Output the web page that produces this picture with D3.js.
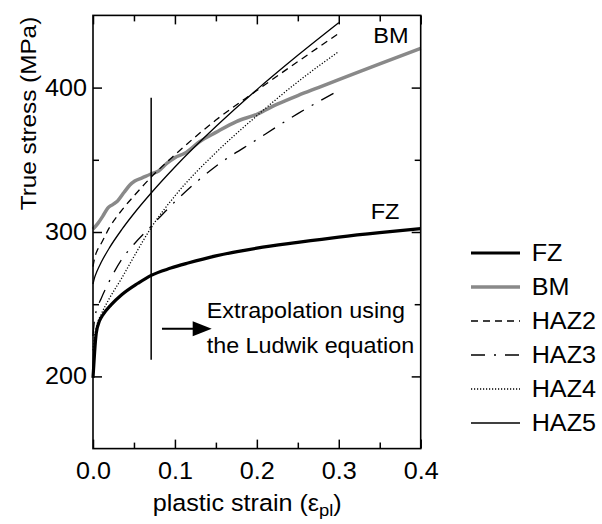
<!DOCTYPE html>
<html>
<head>
<meta charset="utf-8">
<script src="https://cdn.jsdelivr.net/npm/d3@7"></script>
<style>
  html, body { margin: 0; padding: 0; background: #fff; }
  svg { display: block; }
  text { font-family: "Liberation Sans", Arial, Helvetica, sans-serif; fill: #000; }
</style>
</head>
<body>
<svg id="chart" width="602" height="524"></svg>
<script>
// True stress (MPa) against plastic strain, one [strain, stress] list per zone
const FZ   = [[0,199],[0.001,208],[0.002,217],[0.004,230],[0.008,238.5],[0.012,242.5],[0.022,249.5],[0.035,256.5],[0.055,264.5],[0.071,270],[0.095,275],[0.116,278.5],[0.15,283.5],[0.2,288.8],[0.25,292.8],[0.3,296.5],[0.35,299.6],[0.4,302.3]];
const BM   = [[0,302],[0.006,306],[0.012,311],[0.018,316.5],[0.024,319],[0.03,321.5],[0.038,327.5],[0.045,332.5],[0.051,335.3],[0.06,337.5],[0.07,340],[0.08,342.3],[0.09,347.5],[0.1,351.5],[0.112,354.5],[0.13,362.5],[0.15,369],[0.175,376.5],[0.2,381.5],[0.225,388.5],[0.25,394.5],[0.275,400],[0.3,405.5],[0.35,416.5],[0.4,427.2]];
const HAZ2 = [[0,276],[0.002,282],[0.005,287],[0.01,292],[0.02,303],[0.035,315],[0.05,325],[0.071,338],[0.1,353.5],[0.15,377.5],[0.2,398],[0.25,418],[0.3,437.5]];
const HAZ3 = [[0,228],[0.002,240],[0.005,247],[0.01,254],[0.02,266],[0.035,281],[0.05,291.5],[0.071,304],[0.1,321],[0.15,345.5],[0.2,364],[0.25,382],[0.3,398]];
const HAZ4 = [[0,218],[0.002,228],[0.005,236],[0.01,243],[0.02,254],[0.035,268],[0.05,283],[0.071,303],[0.1,325],[0.15,355],[0.2,380.5],[0.25,404],[0.3,425]];
const HAZ5 = [[0,264],[0.002,268.6],[0.005,273],[0.01,279],[0.02,289],[0.035,301.6],[0.05,312.8],[0.071,327],[0.1,345],[0.15,373],[0.2,398.6],[0.25,422.4],[0.3,445]];

const seriesNames = ["FZ", "BM", "HAZ2", "HAZ3", "HAZ4", "HAZ5"];
const seriesData  = [FZ, BM, HAZ2, HAZ3, HAZ4, HAZ5];

// Axis ticks
const xMajorTicks = [0, 0.1, 0.2, 0.3, 0.4];
const xMinorTicks = [0.05, 0.15, 0.25, 0.35];
const yMajorTicks = [200, 300, 400];
const yMinorTicks = [250, 350];

// Limit of the measured range; beyond it the curves follow the Ludwik fit
const extrapolationStrain = 0.071;
const extrapolationStress = [211.6, 393];

// ---------------------------------------------------------------------
const lineStyles = {
  FZ:   { stroke: "#000",    width: 3.2, dash: null },
  BM:   { stroke: "#898989", width: 3.5, dash: null },
  HAZ2: { stroke: "#000",    width: 1.3, dash: "7,5" },
  HAZ3: { stroke: "#000",    width: 1.3, dash: "14,9,2,9" },
  HAZ4: { stroke: "#000",    width: 1.3, dash: "1.2,1.8" },
  HAZ5: { stroke: "#000",    width: 1.3, dash: null }
};

const SX = 1.08;          // slightly wide lettering
const tickFont = 23.3;

const plot = { left: 93, right: 420.7, top: 15.4, bottom: 448.6 };
const x = d3.scaleLinear().domain([0, 0.4]).range([plot.left, plot.right]);
const y = d3.scaleLinear().domain([150, 450]).range([plot.bottom, plot.top]);

const svg = d3.select("#chart");

function label(txt, px, py, size, anchor, extra) {
  return svg.append("text")
    .attr("transform", `translate(${px},${py}) ${extra || ""} scale(${SX},1)`)
    .attr("font-size", size)
    .attr("text-anchor", anchor || "start")
    .text(txt);
}

// Curves
const line = d3.line()
  .x(d => x(d[0]))
  .y(d => y(d[1]))
  .curve(d3.curveMonotoneX);

const curves = svg.append("g").attr("fill", "none");
seriesNames.forEach((name, i) => {
  const s = lineStyles[name];
  curves.append("path")
    .datum(seriesData[i])
    .attr("d", line)
    .attr("stroke", s.stroke)
    .attr("stroke-width", s.width)
    .attr("stroke-dasharray", s.dash)
    .attr("stroke-linejoin", "round");
});

// Axes: inward ticks on all four sides
function drawAxis(gen, transform, ticks, size, fmt) {
  const g = svg.append("g")
    .attr("transform", transform)
    .call(gen.tickValues(ticks).tickSizeInner(-size).tickSizeOuter(0).tickFormat(fmt || (() => "")));
  g.select(".domain").remove();
  g.attr("font-family", null).attr("font-size", tickFont);
  g.selectAll("line").attr("stroke", "#000").attr("stroke-width", 1.5);
  g.selectAll("text").attr("transform", `scale(${SX},1)`).attr("fill", "#000");
  return g;
}

drawAxis(d3.axisBottom(x).tickPadding(14), `translate(0,${plot.bottom})`, xMajorTicks, 9, d3.format(".1f"));
drawAxis(d3.axisBottom(x), `translate(0,${plot.bottom})`, xMinorTicks, 6);
drawAxis(d3.axisTop(x), `translate(0,${plot.top})`, xMajorTicks, 9);
drawAxis(d3.axisTop(x), `translate(0,${plot.top})`, xMinorTicks, 6);
drawAxis(d3.axisLeft(y).tickPadding(5.5), `translate(${plot.left},0)`, yMajorTicks, 9, d3.format("d"));
drawAxis(d3.axisLeft(y), `translate(${plot.left},0)`, yMinorTicks, 6);
drawAxis(d3.axisRight(y), `translate(${plot.right},0)`, yMajorTicks, 9);
drawAxis(d3.axisRight(y), `translate(${plot.right},0)`, yMinorTicks, 6);

svg.append("rect")
  .attr("x", plot.left).attr("y", plot.top)
  .attr("width", plot.right - plot.left).attr("height", plot.bottom - plot.top)
  .attr("fill", "none").attr("stroke", "#000").attr("stroke-width", 1.6);

// Axis titles
label("True stress (MPa)", 36, 113.5, 22.5, "middle", "rotate(-90)");
const xt = label("plastic strain (ε", 152.7, 511, 23.3, "start");
xt.append("tspan").attr("font-size", 17).attr("dy", 5).text("pl");
xt.append("tspan").attr("dy", -5).text(")");

// Extrapolation marker and note
svg.append("line")
  .attr("x1", x(extrapolationStrain)).attr("x2", x(extrapolationStrain))
  .attr("y1", y(extrapolationStress[0])).attr("y2", y(extrapolationStress[1]))
  .attr("stroke", "#000").attr("stroke-width", 1.5);

const arrowY = y(233);
const arrowX0 = x(0.0842), arrowTip = x(0.1449);
svg.append("line")
  .attr("x1", arrowX0).attr("x2", arrowTip - 17)
  .attr("y1", arrowY).attr("y2", arrowY)
  .attr("stroke", "#000").attr("stroke-width", 2);
svg.append("path")
  .attr("d", `M${arrowTip},${arrowY} L${arrowTip - 19},${arrowY - 7.5} L${arrowTip - 19},${arrowY + 7.5} Z`)
  .attr("fill", "#000");

label("Extrapolation using", 206.7, 318.3, 21.6, "start");
label("the Ludwik equation", 206.7, 353.3, 21.6, "start");

// Curve tags
label("BM", 373.3, 43.3, 21.8, "start");
label("FZ", 370.7, 219, 21.8, "start");

// Legend
const legendRows = [253, 287, 321, 355, 389, 423];
seriesNames.forEach((name, i) => {
  const s = lineStyles[name];
  const ly = legendRows[i];
  svg.append("line")
    .attr("x1", 471).attr("x2", 520)
    .attr("y1", ly).attr("y2", ly)
    .attr("stroke", s.stroke)
    .attr("stroke-width", s.width)
    .attr("stroke-dasharray", s.dash);
  label(name, 531.7, ly + 8.3, 23.3, "start");
});
</script>
</body>
</html>
